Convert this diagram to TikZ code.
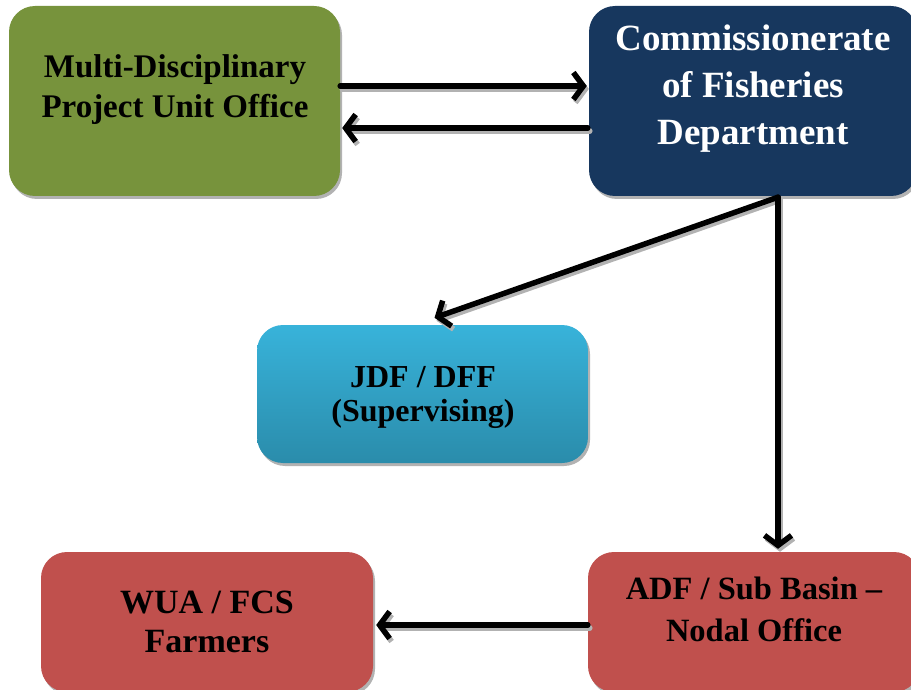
\documentclass[tikz,border=0pt]{standalone}
\usepackage{fontspec}
\setmainfont{Liberation Serif}
\usetikzlibrary{arrows.meta,shadows}

\definecolor{unitgreen}{HTML}{77933C}
\definecolor{deptnavy}{HTML}{17375E}
\definecolor{supertop}{HTML}{38B3DA}
\definecolor{superbot}{HTML}{2A8CAB}
\definecolor{fieldred}{HTML}{C0504D}

\begin{document}
\begin{tikzpicture}[x=1pt,y=-1pt,
  orgbox/.style={rounded corners=26pt, draw=none, inner sep=0pt,
    drop shadow={shadow xshift=2pt, shadow yshift=-3pt, fill=black!55, opacity=0.55}},
  boxtext/.style={font=\bfseries, align=center, inner sep=0pt},
  flow/.style={line width=5.5pt, line cap=round, line join=round,
    -{Straight Barb[length=10pt, width=27pt]}},
  flowshade/.style={flow, draw=black!30},
]
\useasboundingbox (0,0) rectangle (911,690);
\clip (0,0) rectangle (911,690);

% boxes
\node[orgbox, fill=unitgreen, minimum width=331pt, minimum height=190pt] (mdpu) at (174.5,101) {};
\node[orgbox, fill=deptnavy, minimum width=328pt, minimum height=190pt] (cof) at (753,101) {};
\node[orgbox, top color=supertop, bottom color=superbot, minimum width=331pt, minimum height=138pt] (jdf) at (422.5,394) {};
\node[orgbox, fill=fieldred, minimum width=332pt, minimum height=140pt] (wua) at (207,622) {};
\node[orgbox, fill=fieldred, minimum width=332pt, minimum height=140pt] (adf) at (754,622) {};

% labels
\node[boxtext, font=\fontsize{33}{40}\selectfont\bfseries] (mdput) at (175,90)
  {Multi-Disciplinary\\Project Unit Office};
\node[boxtext, text=white, font=\fontsize{37}{47}\selectfont\bfseries] (coft) at (753,89)
  {Commissionerate\\of Fisheries\\Department};
\node[boxtext, font=\fontsize{32}{34}\selectfont\bfseries] (jdft) at (423,397)
  {JDF / DFF\\(Supervising)};
\node[boxtext, font=\fontsize{34}{39}\selectfont\bfseries] (wuat) at (207,622)
  {WUA / FCS\\Farmers};
\node[boxtext, font=\fontsize{32.5}{42}\selectfont\bfseries] (adft) at (754,609)
  {ADF / Sub Basin –\\Nodal Office};

% connectors: soft shadow copies first, then the arrows
\begin{scope}[transform canvas={shift={(2pt,-3pt)}}]
  \draw[flowshade] ([yshift=15pt]mdpu.east) -- ([xshift=-2pt,yshift=15pt]cof.west);
  \draw[flowshade] ([xshift=-1pt,yshift=-27pt]cof.west) -- ([xshift=2pt,yshift=-27pt]mdpu.east);
  \draw[flowshade] ([xshift=25pt,yshift=-1pt]cof.south) -- ([xshift=12pt,yshift=7pt]jdf.north);
  \draw[flowshade] ([xshift=25pt,yshift=-1pt]cof.south) -- ([xshift=24pt,yshift=3pt]adf.north);
  \draw[flowshade] ([yshift=-3pt]adf.west) -- ([xshift=3pt,yshift=-3pt]wua.east);
\end{scope}
\draw[flow] ([yshift=15pt]mdpu.east) -- ([xshift=-2pt,yshift=15pt]cof.west);
\draw[flow] ([xshift=-1pt,yshift=-27pt]cof.west) -- ([xshift=2pt,yshift=-27pt]mdpu.east);
\draw[flow] ([xshift=25pt,yshift=-1pt]cof.south) -- ([xshift=12pt,yshift=7pt]jdf.north);
\draw[flow] ([xshift=25pt,yshift=-1pt]cof.south) -- ([xshift=24pt,yshift=3pt]adf.north);
\draw[flow] ([yshift=-3pt]adf.west) -- ([xshift=3pt,yshift=-3pt]wua.east);
\end{tikzpicture}
\end{document}
